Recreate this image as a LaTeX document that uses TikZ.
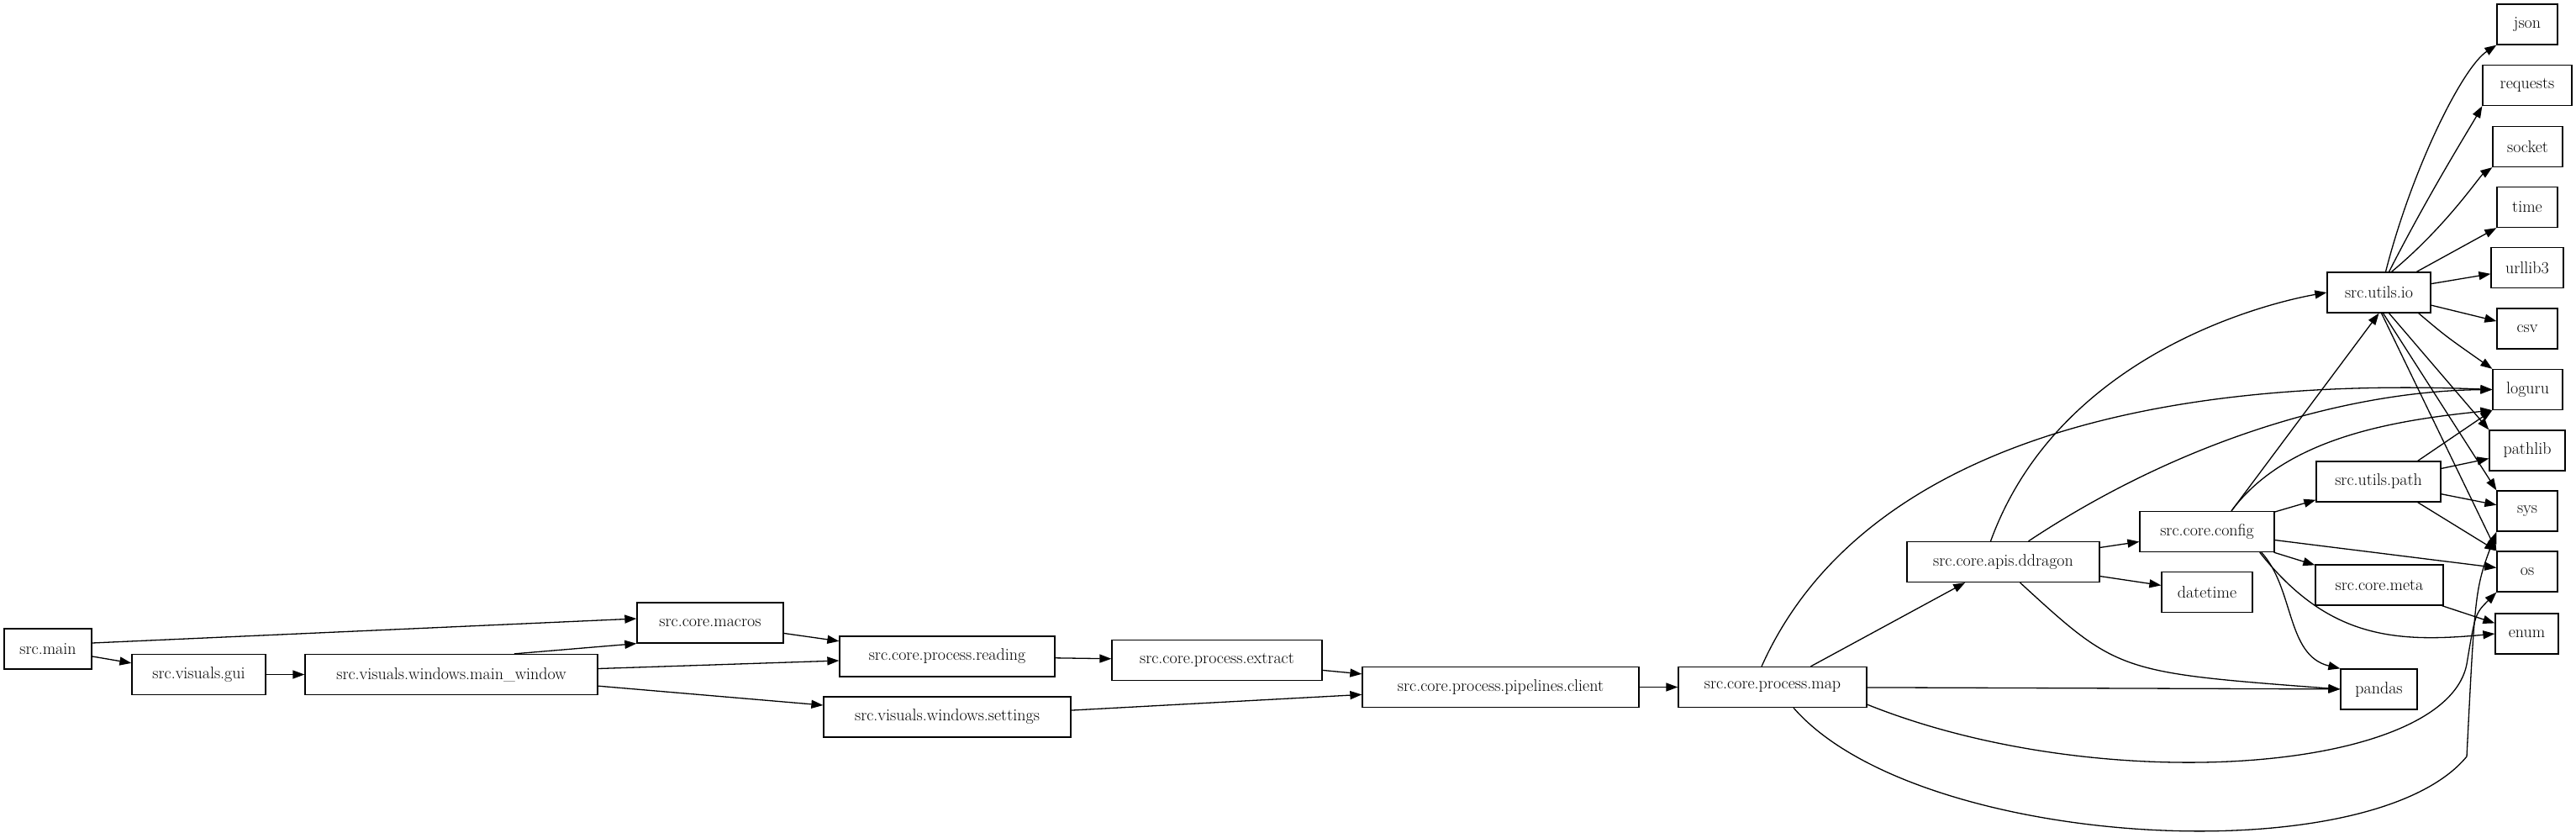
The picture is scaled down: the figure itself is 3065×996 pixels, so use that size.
\documentclass[tikz,border=0pt]{standalone}
\usetikzlibrary{arrows.meta}
\begin{document}
\begin{tikzpicture}[x=1pt,y=-1pt,
  box/.style={draw,line width=1.3pt,minimum height=48pt,inner sep=0pt,font=\fontsize{20}{24}\selectfont},
  ed/.style={line width=1.3pt,-{Triangle[length=14pt,width=10pt]}}]
\useasboundingbox (0,0) rectangle (3065,996);
\node[box,minimum width=104] (main) at (57,772) {src.main};
\node[box,minimum width=159] (gui) at (236.5,802.5) {src.visuals.gui};
\node[box,minimum width=348] (mw) at (537,802.5) {src.visuals.windows.main\_window};
\node[box,minimum width=174] (macros) at (845,741) {src.core.macros};
\node[box,minimum width=256] (reading) at (1127,781) {src.core.process.reading};
\node[box,minimum width=294] (settings) at (1127,853) {src.visuals.windows.settings};
\node[box,minimum width=250] (extract) at (1448,785.5) {src.core.process.extract};
\node[box,minimum width=329] (client) at (1785.5,817.5) {src.core.process.pipelines.client};
\node[box,minimum width=224] (map) at (2109,817.5) {src.core.process.map};
\node[box,minimum width=229] (ddragon) at (2383.5,668.5) {src.core.apis.ddragon};
\node[box,minimum width=160] (config) at (2626,632.5) {src.core.config};
\node[box,minimum width=108] (datetime) at (2626,704.5) {datetime};
\node[box,minimum width=123] (io) at (2830.5,348) {src.utils.io};
\node[box,minimum width=148] (path) at (2830,573) {src.utils.path};
\node[box,minimum width=152] (meta) at (2831,696) {src.core.meta};
\node[box,minimum width=91] (pandas) at (2830.5,820) {pandas};
\node[box,minimum width=72] (json) at (3007,29) {json};
\node[box,minimum width=106] (requests) at (3007,101.5) {requests};
\node[box,minimum width=83] (socket) at (3007.5,174.5) {socket};
\node[box,minimum width=72] (time) at (3007,246.5) {time};
\node[box,minimum width=86] (urllib) at (3007,318.5) {urllib3};
\node[box,minimum width=72] (csv) at (3007,391) {csv};
\node[box,minimum width=83] (loguru) at (3007.5,463.5) {loguru};
\node[box,minimum width=90] (pathlib) at (3007,536) {pathlib};
\node[box,minimum width=72] (sys) at (3007,608) {sys};
\node[box,minimum width=72] (os) at (3007,680) {os};
\node[box,minimum width=75] (enum) at (3006.5,754) {enum};
% left part
\draw[ed] (main.east) ++(0,-7) coordinate (m1) -- (macros.west |- 0,736);
\draw[ed] (main) -- (gui);
\draw[ed] (gui) -- (mw);
\draw[ed] (mw.north) ++(75,0) coordinate (m2) -- (macros.south west);
\draw[ed] (mw.east) ++(0,-7) coordinate (m3) -- (reading.west |- 0,786);
\draw[ed] (mw.south east) ++(0,-11) coordinate (m4) -- (settings.west |- 0,839);
\draw[ed] (macros) -- (reading);
\draw[ed] (reading) -- (extract);
\draw[ed] (extract) -- (client);
\draw[ed] (settings) -- (client);
\draw[ed] (client) -- (map);
\draw[ed] (map) -- (ddragon);
\draw[ed] (map) -- (pandas);
\draw[ed] (map.north) ++(-13,0) coordinate (m5) .. controls (2200,560) and (2500,445) .. (loguru.west);
\draw[ed] (map.south east) ++(0,-4) coordinate (m6) .. controls (2500,950) and (2910,920) .. (2935,790) .. controls (2945,730) .. (os.south west);
\draw[ed] (map.south) ++(25,0) coordinate (m7) .. controls (2280,1010) and (2820,1040) .. (2935,900) .. controls (2945,700) .. (sys.south west);
% ddragon
\draw[ed] (ddragon.north) ++(-15,0) coordinate (d1) .. controls (2450,420) and (2700,360) .. (io.west);
\draw[ed] (ddragon.north) ++(30,0) coordinate (d2) .. controls (2600,520) and (2800,465) .. (loguru.west);
\draw[ed] (ddragon) -- (config);
\draw[ed] (ddragon) -- (datetime);
\draw[ed] (ddragon.south) ++(20,0) coordinate (d3) .. controls (2520,800) .. (pandas.west);
% config
\draw[ed] (config.north) ++(29,0) coordinate (c1) -- (io.south);
\draw[ed] (config.north) ++(29,0) .. controls (2720,520) and (2850,500) .. (loguru.south west);
\draw[ed] (config) -- (path);
\draw[ed] (config) -- (meta);
\draw[ed] (config) -- (os);
\draw[ed] (config.south east) ++(-16,0) coordinate (c2) .. controls (2730,700) and (2720,780) .. (pandas.north west);
\draw[ed] (config.south east) ++(-18,0) coordinate (c3) .. controls (2770,760) and (2850,765) .. (enum.west);
% io
\draw[ed] (io.north) ++(8,0) coordinate (i1) .. controls (2870,200) and (2930,80) .. (json.south west);
\draw[ed] (io.north) ++(12,0) coordinate (i2) .. controls (2890,230) and (2940,150) .. (requests.south west);
\draw[ed] (io.north) ++(15,0) coordinate (i3) .. controls (2910,270) and (2950,210) .. (socket.south west);
\draw[ed] (io) -- (time.south west);
\draw[ed] (io) -- (urllib);
\draw[ed] (io) -- (csv);
\draw[ed] (io.south east) ++(-15,0) coordinate (i4) .. controls (2910,400) .. (loguru.north west);
\draw[ed] (io.south) ++(12,0) coordinate (i5) -- (pathlib.north west);
\draw[ed] (io.south) ++(5,0) coordinate (i6) -- (sys.north west);
\draw[ed] (io.south) ++(3,0) coordinate (i7) -- (os.north west);
% path
\draw[ed] (path.north east) ++(-28,0) coordinate (p1) -- (loguru.south west);
\draw[ed] (path) -- (pathlib);
\draw[ed] (path) -- (sys);
\draw[ed] (path.south east) ++(-28,0) coordinate (p2) -- (os.north west);
\draw[ed] (meta) -- (enum);
\end{tikzpicture}
\end{document}
